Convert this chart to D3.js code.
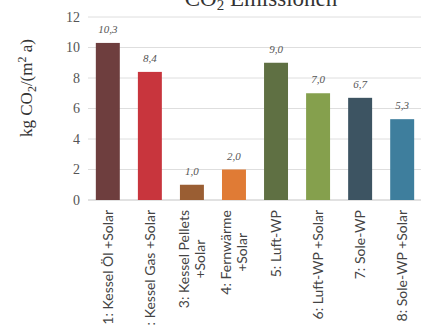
<!DOCTYPE html>
<html>
<head>
<meta charset="utf-8">
<script src="https://cdn.jsdelivr.net/npm/d3@7/dist/d3.min.js"></script>
<style>
  html, body { margin: 0; padding: 0; background: #fff; }
  svg { display: block; }
</style>
</head>
<body>
<svg id="chart" width="426" height="326"></svg>
<script>
// CO2 emissions per heating system variant
const categories = [
  ["1: Kessel Öl +Solar"],
  ["2: Kessel Gas +Solar"],
  ["3: Kessel Pellets", "+Solar"],
  ["4: Fernwärme", "+Solar"],
  ["5: Luft-WP"],
  ["6: Luft-WP +Solar"],
  ["7: Sole-WP"],
  ["8: Sole-WP +Solar"]
];
const values = [10.3, 8.4, 1.0, 2.0, 9.0, 7.0, 6.7, 5.3];
const colors = ["#6e3e3e", "#c8353d", "#9a5e33", "#e07b35", "#5f7043", "#85a04d", "#3d5462", "#3e7e9d"];
const yTicks = [0, 2, 4, 6, 8, 10, 12];

const svg = d3.select("#chart");
const serif = "'Liberation Serif', 'DejaVu Serif', serif";
const sans = "Lato, 'Open Sans', 'Liberation Sans', sans-serif";

const x = d3.scaleBand()
  .domain(d3.range(values.length))
  .range([87, 423])
  .paddingInner(0.43)
  .paddingOuter(0.21);

const y = d3.scaleLinear().domain([0, 12]).range([200, 17]);

// Title
svg.append("text")
  .attr("x", 261).attr("y", 6)
  .attr("text-anchor", "middle")
  .attr("font-family", serif)
  .attr("font-size", 23)
  .attr("fill", "#333")
  .html('CO<tspan font-size="15" dy="4">2</tspan><tspan dy="-4"> Emissionen</tspan>');

// Grid lines
svg.append("g")
  .selectAll("line")
  .data(yTicks)
  .join("line")
  .attr("x1", 88).attr("x2", 421)
  .attr("y1", d => y(d)).attr("y2", d => y(d))
  .attr("stroke", d => d === 0 ? "#c4c4c4" : "#dedede")
  .attr("stroke-width", 1);

// Y axis tick labels
const yAxis = svg.append("g")
  .attr("transform", "translate(80,0)")
  .call(d3.axisLeft(y).tickValues(yTicks).tickSize(0).tickPadding(0));
yAxis.select(".domain").remove();
yAxis.selectAll("text")
  .attr("font-family", serif)
  .attr("font-size", 14)
  .attr("fill", "#555");

// Y axis title
svg.append("text")
  .attr("transform", "translate(32,88) rotate(-90)")
  .attr("text-anchor", "middle")
  .attr("font-family", serif)
  .attr("font-size", 17)
  .attr("fill", "#333")
  .html('kg CO<tspan font-size="12" dy="4">2</tspan><tspan dy="-4">/(m</tspan><tspan font-size="12" dy="-6">2</tspan><tspan dy="6"> a)</tspan>');

// Bars
svg.append("g")
  .selectAll("rect")
  .data(values)
  .join("rect")
  .attr("x", (d, i) => x(i))
  .attr("width", x.bandwidth())
  .attr("y", d => y(d))
  .attr("height", d => y(0) - y(d))
  .attr("fill", (d, i) => colors[i]);

// Value labels
svg.append("g")
  .selectAll("text")
  .data(values)
  .join("text")
  .attr("x", (d, i) => x(i) + x.bandwidth() / 2)
  .attr("y", d => y(d) - 10)
  .attr("text-anchor", "middle")
  .attr("font-family", serif)
  .attr("font-style", "italic")
  .attr("font-size", 11)
  .attr("fill", "#555")
  .text(d => d.toFixed(1).replace(".", ","));

// Category labels, rotated
const catG = svg.append("g");
categories.forEach((lines, i) => {
  const cx = x(i) + x.bandwidth() / 2;
  const g = catG.append("g")
    .attr("transform", `translate(${cx},210) rotate(-90)`);
  const off = lines.length > 1 ? 8 : 0;
  const t1 = g.append("text")
    .attr("x", 0)
    .attr("y", -off)
    .attr("dy", "0.35em")
    .attr("text-anchor", "end")
    .attr("font-family", sans)
    .attr("font-size", 14)
    .attr("fill", "#444")
    .text(lines[0]);
  if (lines.length > 1) {
    const len = t1.node().getComputedTextLength();
    g.append("text")
      .attr("x", -len / 2)
      .attr("y", off)
      .attr("dy", "0.35em")
      .attr("text-anchor", "middle")
      .attr("font-family", sans)
      .attr("font-size", 14)
      .attr("fill", "#444")
      .text(lines[1]);
  }
});
</script>
</body>
</html>
